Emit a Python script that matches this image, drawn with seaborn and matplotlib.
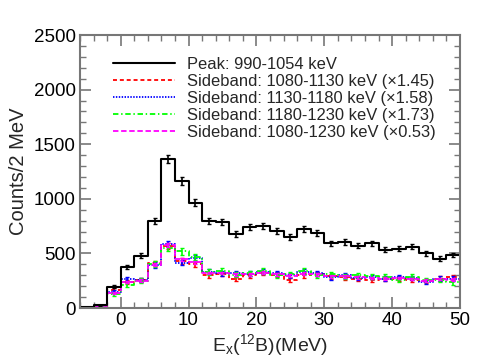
import numpy as np
import pandas as pd
import matplotlib
matplotlib.use("Agg")
import matplotlib.pyplot as plt
import seaborn as sns
from matplotlib.ticker import MultipleLocator

# ---- data ----
bin_edges = list(range(-6, 51, 2))
bin_centers = [-5, -3, -1, 1, 3, 5, 7, 9, 11, 13, 15, 17, 19, 21, 23, 25, 27, 29,
               31, 33, 35, 37, 39, 41, 43, 45, 47, 49]
peak = [10, 25, 195, 375, 480, 797, 1367, 1163, 964, 800, 784, 678, 738, 751,
        709, 652, 720, 690, 592, 605, 570, 592, 533, 543, 561, 500, 452, 485]
sb1 = [5, 18, 165, 235, 255, 410, 565, 430, 400, 300, 310, 265, 300, 320,
       305, 260, 300, 310, 290, 280, 270, 260, 265, 270, 260, 250, 270, 285]
sb2 = [5, 16, 150, 265, 255, 395, 585, 415, 460, 330, 320, 320, 315, 330,
       320, 300, 330, 320, 280, 300, 275, 285, 270, 285, 275, 235, 270, 270]
sb3 = [4, 15, 125, 210, 250, 400, 550, 520, 465, 330, 340, 305, 320, 340,
       300, 310, 340, 300, 310, 290, 300, 290, 285, 260, 285, 255, 255, 235]
sb4 = [5, 17, 140, 240, 250, 395, 578, 445, 420, 320, 320, 310, 310, 325,
       310, 295, 315, 310, 290, 290, 280, 275, 270, 275, 265, 250, 265, 260]
scales = [1.0, 1.45, 1.58, 1.73, 0.53]
labels = ["Peak: 990-1054 keV",
          "Sideband: 1080-1130 keV (\u00d71.45)",
          "Sideband: 1130-1180 keV (\u00d71.58)",
          "Sideband: 1180-1230 keV (\u00d71.73)",
          "Sideband: 1080-1230 keV (\u00d70.53)"]
colors = ["black", "#ff0000", "#0000ff", "#00ff00", "#ff00ff"]
styles = ["-", (0, (2.2, 1.6)), (0, (0.8, 0.8)), (0, (3, 1.5, 0.8, 1.5)), (0, (3, 1.5))]
series = [peak, sb1, sb2, sb3, sb4]

sns.set_style("ticks")
plt.rcParams['font.family'] = ['Liberation Sans', 'DejaVu Sans']
plt.rcParams['mathtext.fontset'] = 'custom'
plt.rcParams['mathtext.rm'] = 'Liberation Sans'
plt.rcParams['mathtext.it'] = 'Liberation Sans'

fig = plt.figure(figsize=(4.98, 3.59), dpi=100)
ax = fig.add_axes([0.1606, 0.142, 0.7631, 0.7605])

order = [1, 2, 3, 4, 0]
handles = {}
for i in order:
    vals = np.array(series[i], dtype=float)
    df = pd.DataFrame({"x": bin_centers, "w": vals})
    sns.histplot(data=df, x="x", weights="w", bins=bin_edges, element="step",
                 fill=False, color=colors[i], linestyle=styles[i],
                 linewidth=1.5 if i == 0 else 1.3, ax=ax)
    err = np.sqrt(vals * scales[i])
    ax.errorbar(bin_centers, vals, yerr=err, fmt="none", ecolor=colors[i],
                elinewidth=1.2, capsize=1.5, capthick=1.0)
    handles[i] = plt.Line2D([], [], color=colors[i], linestyle=styles[i],
                            linewidth=1.5 if i == 0 else 1.3)

ax.set_xlim(-6, 50)
ax.set_ylim(0, 2500)
ax.xaxis.set_major_locator(MultipleLocator(10))
ax.xaxis.set_minor_locator(MultipleLocator(2))
ax.yaxis.set_major_locator(MultipleLocator(500))
ax.yaxis.set_minor_locator(MultipleLocator(100))
gray = "#777777"
for s in ax.spines.values():
    s.set_visible(True)
    s.set_color(gray)
    s.set_linewidth(1.5)
ax.tick_params(which="both", direction="in", top=True, right=True, color=gray,
               labelsize=13.5, labelcolor="black")
ax.tick_params(which="major", length=8, width=1.2, pad=3)
ax.tick_params(which="minor", length=4, width=1.0)

ax.set_xlabel(r"E$_{\mathrm{x}}$($^{12}$B)(MeV)", fontsize=14, labelpad=2)
ax.set_ylabel("Counts/2 MeV", fontsize=14.5, labelpad=4)

leg = ax.legend([handles[i] for i in range(5)], labels, loc="upper left",
                bbox_to_anchor=(0.06, 0.955), frameon=False, fontsize=11.9,
                handlelength=3.75, handletextpad=0.72, labelspacing=0.12,
                borderaxespad=0.2)

fig.savefig("out.png", dpi=100)
